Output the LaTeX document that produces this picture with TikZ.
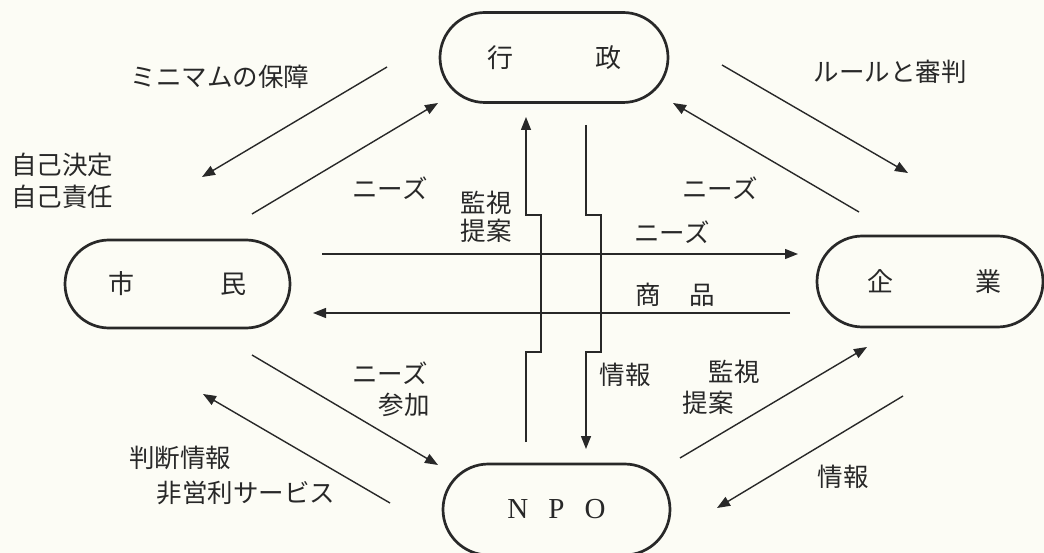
\documentclass[tikz,border=0pt]{standalone}
\usepackage{fontspec}
\newfontfamily\jp{Noto Sans CJK JP}
\usetikzlibrary{arrows.meta,shapes.misc}
\definecolor{paper}{RGB}{252,252,245}
\definecolor{ink}{RGB}{40,40,40}
\tikzset{
  box/.style={draw=ink, line width=2.7pt, rounded rectangle, minimum width=228pt, minimum height=90pt, inner sep=0pt, text=ink, font=\jp\fontsize{26}{30}\selectfont},
  lbl/.style={text=ink, inner sep=0pt, font=\jp\fontsize{25.5}{30}\selectfont},
  arr/.style={draw=ink, line width=1.4pt, -{Triangle[length=13pt,width=10pt]}},
  ln/.style={draw=ink, line width=1.4pt}
}
\begin{document}
\begin{tikzpicture}[x=1pt,y=-1pt]
\fill[paper] (0,0) rectangle (1044,553);
\useasboundingbox (0,0) rectangle (1044,553);

% main nodes
\node[box] (gyosei) at (554,57.5) {\raisebox{-5pt}{行\hspace{82pt}政}};
\node[box, minimum width=225pt, minimum height=88pt] (shimin) at (177.5,284) {\raisebox{-5pt}{市\hspace{86pt}民}};
\node[box, minimum width=226pt, minimum height=91pt] (kigyo) at (930,281.5) {\raisebox{-4pt}{\hspace{8pt}企\hspace{82pt}業}};
\node[box, minimum width=227pt, minimum height=91pt] (npo) at (556.5,509.5) {\raisebox{-4pt}{\fontspec{Liberation Serif}\fontsize{29}{32}\selectfont N\hspace{20pt}P\hspace{20pt}O}};

% labels
\node[lbl] (tMin) at (220,77) {ミニマムの保障};
\node[lbl, anchor=west] (tJ1) at (11,165) {自己決定};
\node[lbl, anchor=west] (tJ2) at (11,197) {自己責任};
\node[lbl] (tNUL) at (390,188) {ニーズ};
\node[lbl] (tK1) at (486,203) {監視};
\node[lbl] (tT1) at (486,231) {提案};
\node[lbl] (tNUR) at (720,188) {ニーズ};
\node[lbl] (tNM) at (672,232) {ニーズ};
\node[lbl] (tSho) at (675,295) {商\hspace{29pt}品};
\node[lbl] (tRule) at (890,72) {ルールと審判};
\node[lbl] (tNLL) at (390,373) {ニーズ};
\node[lbl] (tSan) at (404,405) {参加};
\node[lbl] (tHan) at (180,458) {判断情報};
\node[lbl] (tHi) at (246,493) {非営利サービス};
\node[lbl] (tJoM) at (625,375) {情報};
\node[lbl] (tK2) at (734,372) {監視};
\node[lbl] (tT2) at (708,403) {提案};
\node[lbl] (tJoLR) at (843,477) {情報};

% coordinates for free ends
\coordinate (a1s) at (387,67);   \coordinate (a1e) at (202,177);
\coordinate (a2s) at (252,214);  \coordinate (a2e) at (438,103);
\coordinate (a3s) at (722,65);   \coordinate (a3e) at (908,173);
\coordinate (a4s) at (859,212);  \coordinate (a4e) at (673,103);
\coordinate (a5s) at (252,355);  \coordinate (a5e) at (438,465);
\coordinate (a6s) at (390,503);  \coordinate (a6e) at (203,394);
\coordinate (a7s) at (680,458);  \coordinate (a7e) at (867,347);
\coordinate (a8s) at (903,396);  \coordinate (a8e) at (717,508);
\coordinate (h1s) at (322,254);  \coordinate (h1e) at (798,254);
\coordinate (h2s) at (790,313);  \coordinate (h2e) at (313,313);
\coordinate (v1s) at (526,442);  \coordinate (v1e) at (526,117);
\coordinate (v2s) at (586,125);  \coordinate (v2e) at (586,449);

% diagonal arrows
\draw[arr] (a1s) -- (a1e);
\draw[arr] (a2s) -- (a2e);
\draw[arr] (a3s) -- (a3e);
\draw[arr] (a4s) -- (a4e);
\draw[arr] (a5s) -- (a5e);
\draw[arr] (a6s) -- (a6e);
\draw[arr] (a7s) -- (a7e);
\draw[arr] (a8s) -- (a8e);

% horizontal arrows
\draw[arr] (h1s) -- (h1e);
\draw[arr] (h2s) -- (h2e);

% stepped vertical arrows
\draw[arr] (v1s) -- (526,352) -- (541,352) -- (541,215) -- (526,215) -- (v1e);
\draw[arr] (v2s) -- (586,215) -- (601,215) -- (601,352) -- (586,352) -- (v2e);
\end{tikzpicture}
\end{document}
